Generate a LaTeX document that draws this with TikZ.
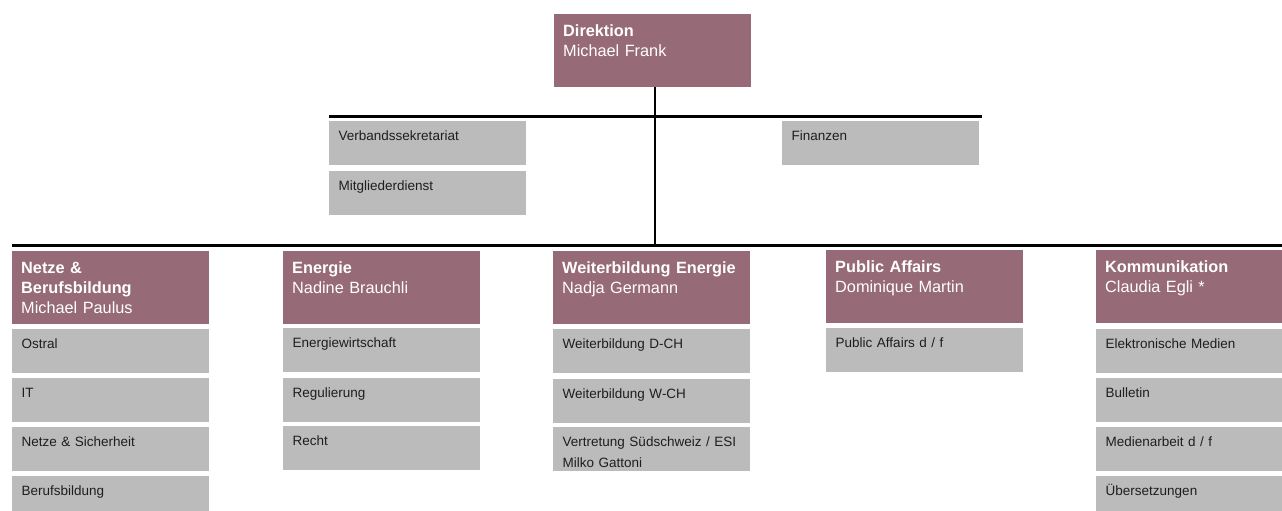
\documentclass[tikz,border=0pt]{standalone}
\usepackage{fontspec}
\setmainfont{Liberation Sans}
\definecolor{mauve}{HTML}{966A77}
\definecolor{boxgray}{HTML}{BBBBBB}
\definecolor{subtext}{HTML}{1E1E1E}
\begin{document}
\begin{tikzpicture}[x=1pt,y=-1pt,
  head/.style={anchor=north west, fill=mauve, text=white, inner xsep=9pt, inner ysep=0pt,
    minimum width=197pt, text width=179pt, text height=22pt, text depth=51pt,
    align=left, font=\fontsize{16.3}{20}\selectfont},
  sub/.style={anchor=north west, fill=boxgray, text=subtext, inner xsep=9.5pt, inner ysep=0pt,
    minimum width=197pt, text width=178pt, text height=19pt, text depth=25pt,
    align=left, font=\fontsize{13.5}{21.5}\selectfont},
  bus/.style={line width=3pt, black},
  stem/.style={line width=2.6pt, black}]
\clip (0,0) rectangle (1282,511);
\fill[white] (0,0) rectangle (1282,511);

% top
\node[head] (dir) at (554,14) {\textbf{Direktion}\\Michael Frank};
\node[sub] (verb) at (329,121) {Verbandssekretariat};
\node[sub] (mitg) at (329,171) {Mitgliederdienst};
\node[sub] (fin) at (782,121) {Finanzen};

% bus coordinates
\coordinate (upL) at (329,116);
\coordinate (upR) at (982,116);
\coordinate (loL) at (12,245);
\coordinate (loR) at (1290,245);
\coordinate (junc) at (655,245);

\draw[bus] (upL) -- (upR);
\draw[bus] (loL) -- (loR);
\draw[stem] (dir.south -| junc) -- (junc);

% departments
\node[head] (netze) at (12,251) {\textbf{Netze \&}\\\textbf{Berufsbildung}\\Michael Paulus};
\node[sub] (ostral) at (12,329) {Ostral};
\node[sub] (it) at (12,378) {IT};
\node[sub] (netzsich) at (12,427) {Netze \& Sicherheit};
\node[sub] (beruf) at (12,476) {Berufsbildung};

\node[head] (energie) at (283,251) {\textbf{Energie}\\Nadine Brauchli};
\node[sub] (ewirt) at (283,328) {Energiewirtschaft};
\node[sub] (regul) at (283,378) {Regulierung};
\node[sub] (recht) at (283,426) {Recht};

\node[head] (weiter) at (553,251) {\textbf{Weiterbildung Energie}\\Nadja Germann};
\node[sub] (wbd) at (553,329) {Weiterbildung D-CH};
\node[sub] (wbw) at (553,379) {Weiterbildung W-CH};
\node[sub] (vertr) at (553,427) {Vertretung Südschweiz / ESI\\Milko Gattoni};

\node[head] (public) at (826,250) {\textbf{Public Affairs}\\Dominique Martin};
\node[sub] (padf) at (826,328) {Public Affairs d / f};

\node[head] (komm) at (1096,250) {\textbf{Kommunikation}\\Claudia Egli *};
\node[sub] (elek) at (1096,329) {Elektronische Medien};
\node[sub] (bull) at (1096,378) {Bulletin};
\node[sub] (medien) at (1096,427) {Medienarbeit d / f};
\node[sub] (ueber) at (1096,476) {Übersetzungen};
\end{tikzpicture}
\end{document}
